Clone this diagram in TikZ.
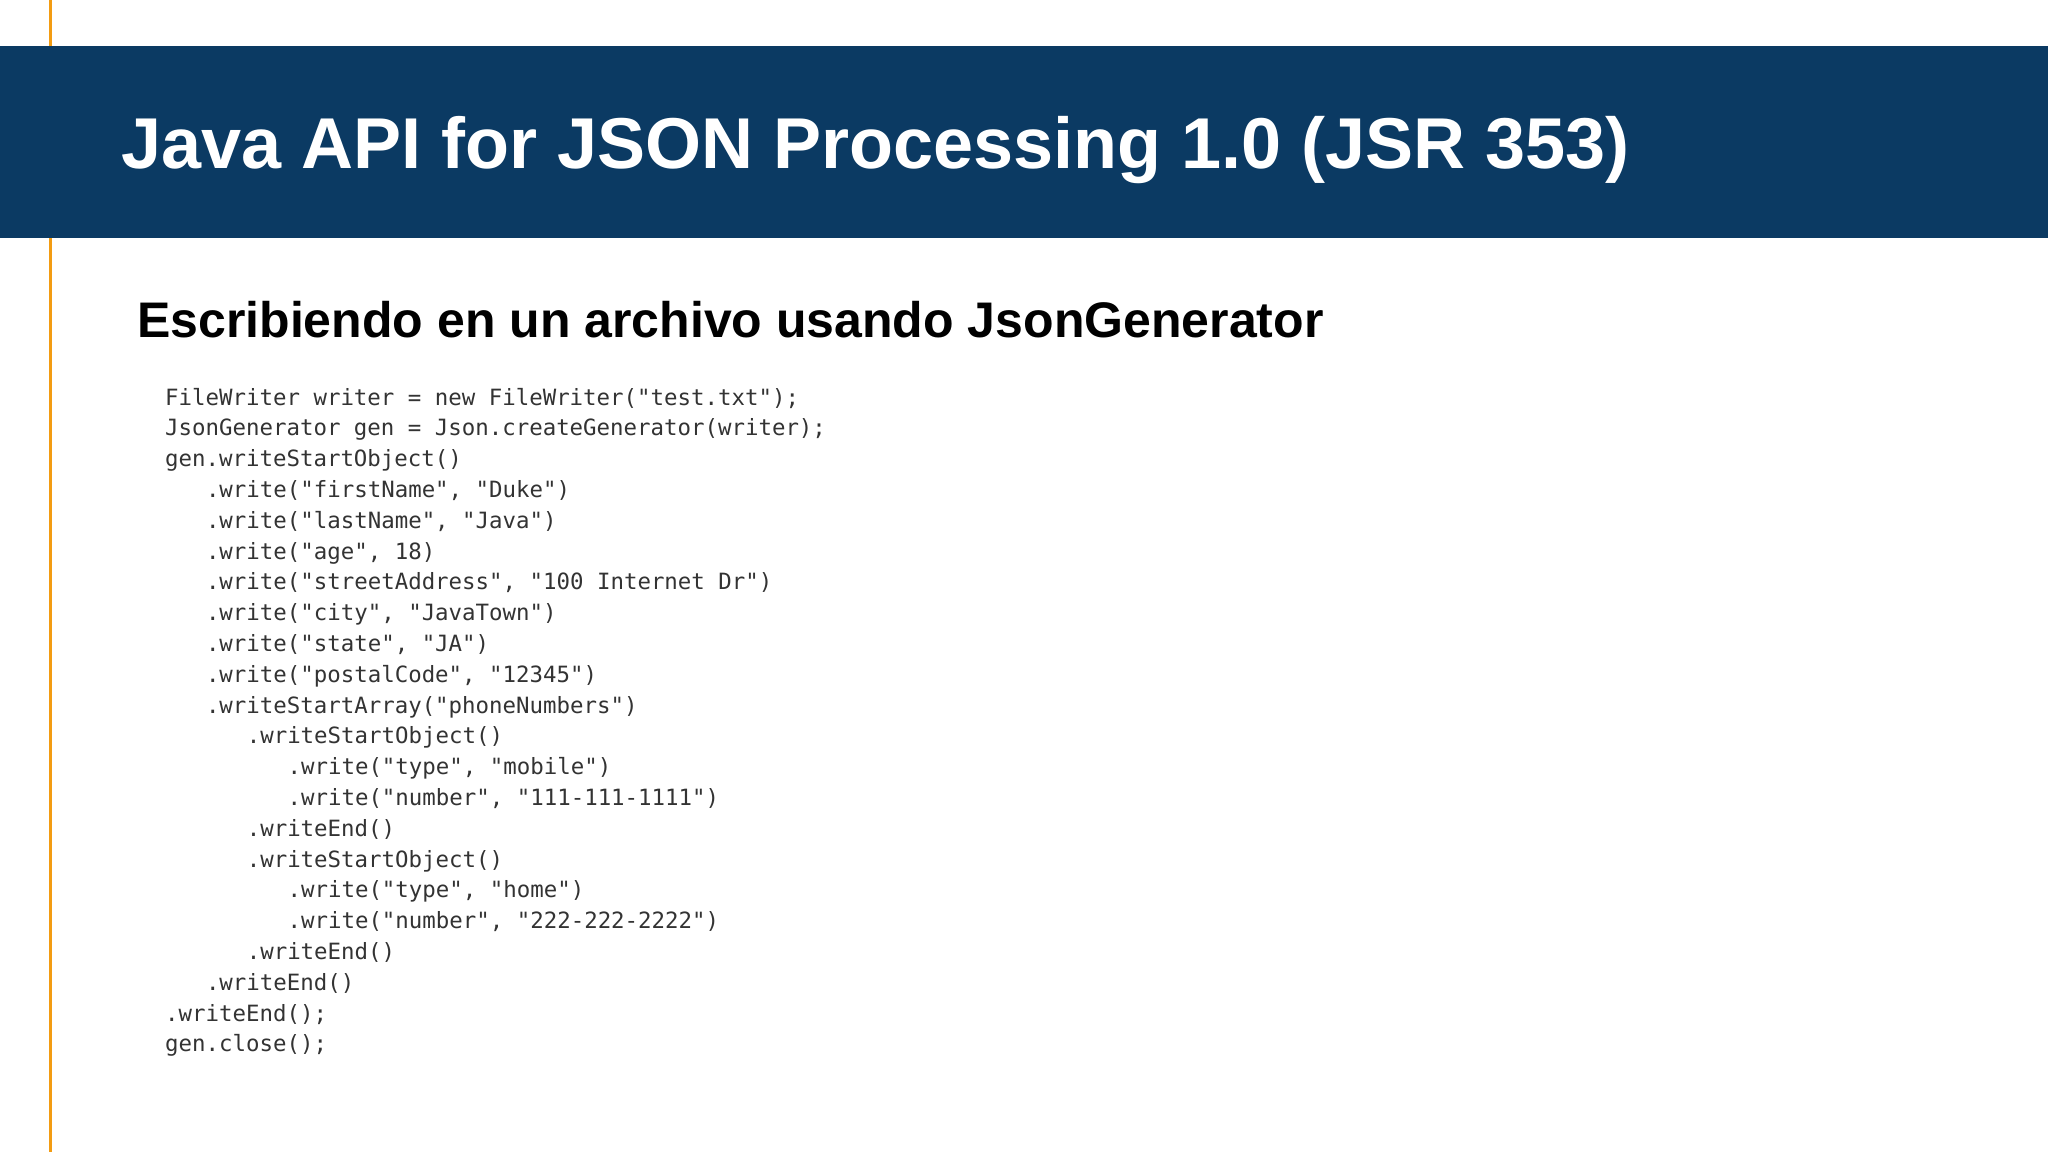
\documentclass[tikz,border=0pt]{standalone}
\usepackage{fontspec}
\setmainfont{Liberation Sans}
\newfontfamily\codefont{DejaVu Sans Mono}
\definecolor{banner}{HTML}{0B3A63}
\definecolor{accent}{HTML}{F39C12}
\definecolor{codegray}{HTML}{333333}
\begin{document}
\begin{tikzpicture}[x=1pt,y=-1pt,
  codeline/.style={anchor=base west,inner sep=0pt,text=codegray,font=\codefont\fontsize{22.4}{26}\selectfont}]
\useasboundingbox (0,0) rectangle (2048,1152);
\fill[white] (0,0) rectangle (2048,1152);
\draw[accent,line width=3] (50,0) -- (50,1152);
\fill[banner] (0,46) rectangle (2048,238);
\node[anchor=base west,inner sep=0pt,text=white,font=\bfseries\fontsize{72}{80}\selectfont] (title) at (121,168) {Java API for JSON Processing 1.0 (JSR 353)};
\node[anchor=base west,inner sep=0pt,text=black,font=\bfseries\fontsize{50}{58}\selectfont] (sub) at (137,337) {Escribiendo en un archivo usando JsonGenerator};
\foreach \i/\ind/\t in {
0/0/{FileWriter writer = new FileWriter("test.txt");},
1/0/{JsonGenerator gen = Json.createGenerator(writer);},
2/0/{gen.writeStartObject()},
3/1/{.write("firstName", "Duke")},
4/1/{.write("lastName", "Java")},
5/1/{.write("age", 18)},
6/1/{.write("streetAddress", "100 Internet Dr")},
7/1/{.write("city", "JavaTown")},
8/1/{.write("state", "JA")},
9/1/{.write("postalCode", "12345")},
10/1/{.writeStartArray("phoneNumbers")},
11/2/{.writeStartObject()},
12/3/{.write("type", "mobile")},
13/3/{.write("number", "111-111-1111")},
14/2/{.writeEnd()},
15/2/{.writeStartObject()},
16/3/{.write("type", "home")},
17/3/{.write("number", "222-222-2222")},
18/2/{.writeEnd()},
19/1/{.writeEnd()},
20/0/{.writeEnd();},
21/0/{gen.close();}}
{\node[codeline] (c\i) at (165+\ind*40.8, 405+\i*30.8) {\t};}
\end{tikzpicture}
\end{document}
